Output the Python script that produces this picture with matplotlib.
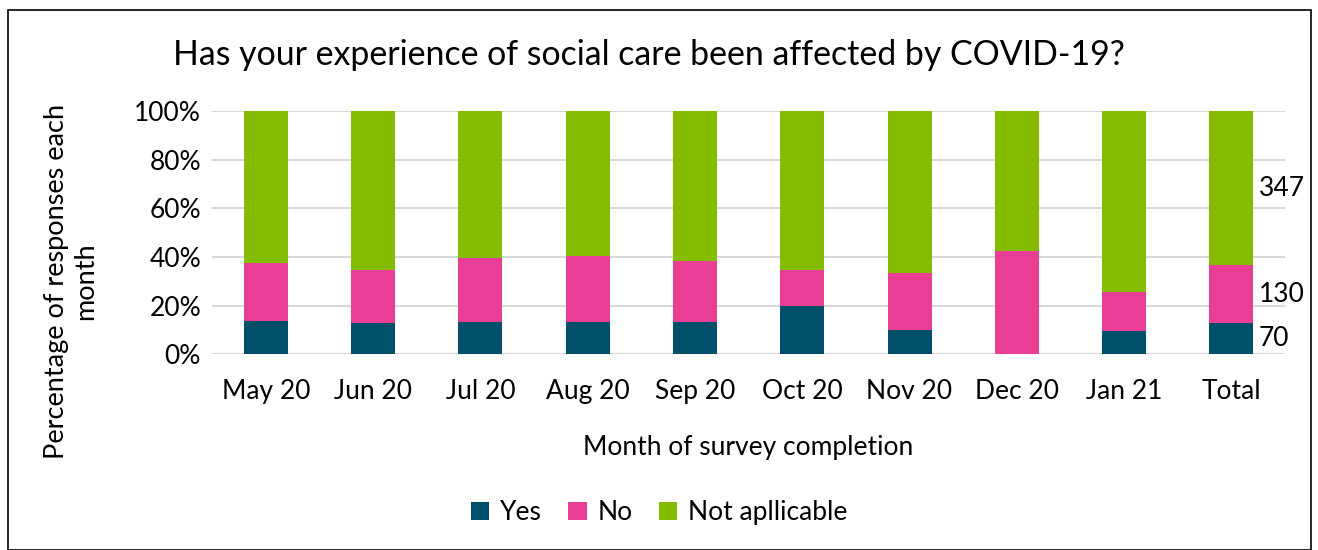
import matplotlib.pyplot as plt
import numpy as np
from matplotlib.patches import Rectangle

plt.rcParams['font.family'] = ['Lato', 'DejaVu Sans']

months = ['May 20', 'Jun 20', 'Jul 20', 'Aug 20', 'Sep 20', 'Oct 20', 'Nov 20', 'Dec 20', 'Jan 21', 'Total']
yes_pct = [13.7, 12.9, 13.2, 13.3, 13.3, 19.7, 10.0, 0.0, 9.6, 12.8]
no_pct = [24.0, 21.8, 26.4, 27.0, 25.1, 15.0, 23.2, 42.4, 15.9, 23.8]
na_pct = [100 - y - n for y, n in zip(yes_pct, no_pct)]
total_counts = [70, 130, 347]

c_yes = '#00506b'
c_no = '#e83e96'
c_na = '#84bd00'
fs = 19

fig = plt.figure(figsize=(13.18, 5.5), dpi=100)
ax = fig.add_axes([0.161, 0.356, 0.814, 0.442])

x = np.arange(len(months))
w = 0.41
ax.bar(x, yes_pct, w, color=c_yes, label='Yes', zorder=3)
ax.bar(x, no_pct, w, bottom=yes_pct, color=c_no, label='No', zorder=3)
bot2 = [a + b for a, b in zip(yes_pct, no_pct)]
ax.bar(x, na_pct, w, bottom=bot2, color=c_na, label='Not apllicable', zorder=3)

# counts next to the Total bar
mids = [yes_pct[-1] / 2, yes_pct[-1] + no_pct[-1] / 2, bot2[-1] + na_pct[-1] / 2]
for m, c in zip(mids, total_counts):
    ax.text(x[-1] + w / 2 + 0.05, m, str(c), va='center', ha='left', fontsize=fs)

ax.set_xlim(-0.5, len(months) - 0.5)
ax.set_ylim(0, 100)
ax.set_yticks(range(0, 101, 20))
ax.set_yticklabels([f'{v}%' for v in range(0, 101, 20)])
ax.set_xticks(x)
ax.set_xticklabels(months)
ax.tick_params(axis='both', length=0, labelsize=fs, pad=8)
ax.tick_params(axis='x', pad=18)
ax.grid(axis='y', color='#d9d9d9', linewidth=1.5, zorder=0)
for s in ax.spines.values():
    s.set_visible(False)

ax.set_xlabel('Month of survey completion', fontsize=fs, labelpad=22)
ax.set_ylabel('Percentage of responses each\nmonth', fontsize=19.5)
ax.yaxis.set_label_coords(-0.106, 0.3)

fig.text(0.492, 0.9, 'Has your experience of social care been affected by COVID-19?',
         ha='center', va='center', fontsize=24.4)

fig.legend(loc='center', bbox_to_anchor=(0.5, 0.068), ncol=3, frameon=False,
           fontsize=fs, handlelength=0.7, handleheight=0.7, columnspacing=1.0,
           handletextpad=0.4)

fig.patches.append(Rectangle((0.006, 0.0), 0.989, 0.982, transform=fig.transFigure,
                             fill=False, edgecolor='black', linewidth=1.2))

fig.savefig('out.png', dpi=100)
